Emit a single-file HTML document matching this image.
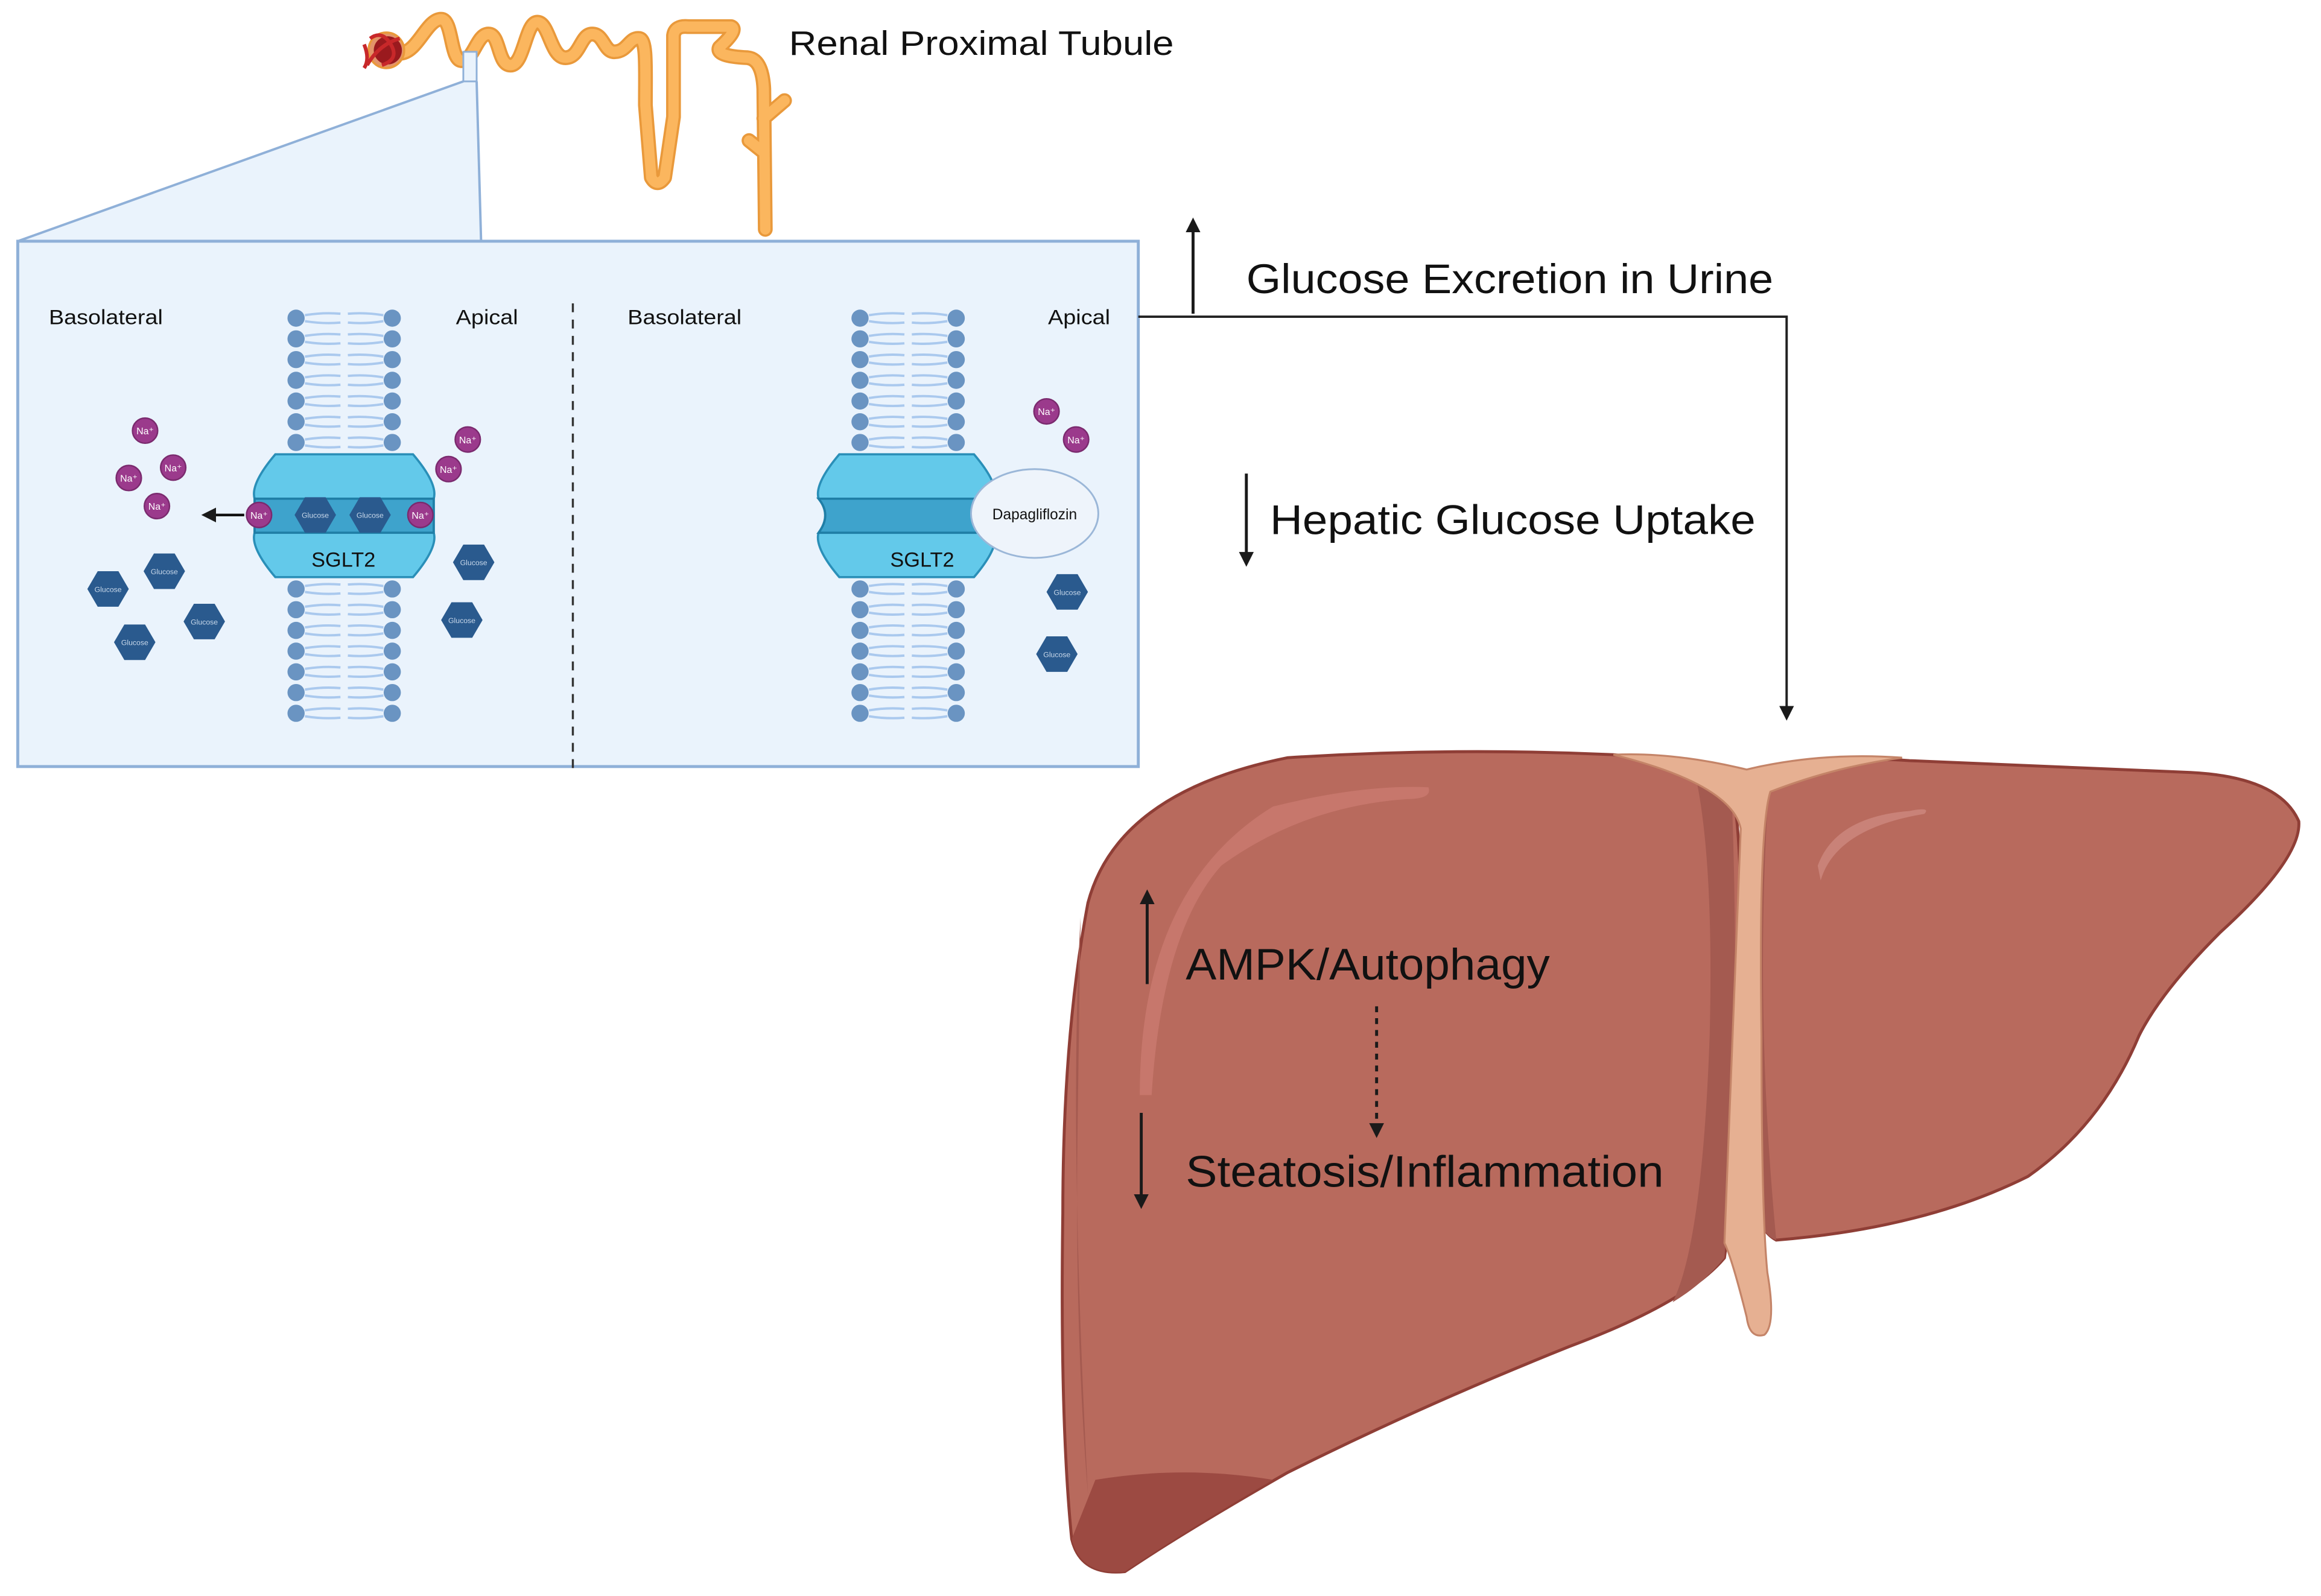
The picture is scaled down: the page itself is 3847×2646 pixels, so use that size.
<!DOCTYPE html>
<html><head><meta charset="utf-8"><style>html,body{margin:0;padding:0;background:#fff}svg{display:block}</style></head>
<body>
<svg width="3847" height="2646" viewBox="0 0 1568 1078.5" xmlns="http://www.w3.org/2000/svg" font-family="Liberation Sans, sans-serif">
<defs>
<marker id="ah" markerWidth="10" markerHeight="10" refX="5" refY="5" orient="auto" markerUnits="userSpaceOnUse"><path d="M0,0 L10,5 L0,10 z" fill="#1a1a1a"/></marker>
<g id="lip">
 <circle cx="0" cy="0" r="5.8" fill="#6a94c2"/>
 <circle cx="65" cy="0" r="5.8" fill="#6a94c2"/>
 <path d="M6,-2 Q18,-4 30,-3 M6,2 Q18,4 30,3 M35,-3 Q47,-4 59,-2 M35,3 Q47,4 59,2" stroke="#aac9ee" stroke-width="1.6" fill="none"/>
</g>
<g id="mem">
 <use href="#lip" y="215"/><use href="#lip" y="229"/><use href="#lip" y="243"/><use href="#lip" y="257"/><use href="#lip" y="271"/><use href="#lip" y="285"/><use href="#lip" y="299"/>
 <use href="#lip" y="398"/><use href="#lip" y="412"/><use href="#lip" y="426"/><use href="#lip" y="440"/><use href="#lip" y="454"/><use href="#lip" y="468"/><use href="#lip" y="482"/>
</g>
<g id="na"><circle r="8.5" fill="#9b3a8c" stroke="#7a2a6e" stroke-width="1"/><text y="2.5" font-size="6.5" fill="#fff" text-anchor="middle">Na⁺</text></g>
<g id="glu"><polygon points="-14,0 -7,-12 7,-12 14,0 7,12 -7,12" fill="#2a5a8e"/><text y="2" font-size="5" fill="#c8d8ea" text-anchor="middle">Glucose</text></g>
</defs>

<polygon points="313,55 322,55 325,163 12,163" fill="#eaf3fc"/>
<line x1="313" y1="55" x2="12" y2="163" stroke="#8fb0d8" stroke-width="1.6"/>
<line x1="322" y1="55" x2="325" y2="163" stroke="#8fb0d8" stroke-width="1.6"/>
<rect x="12" y="163" width="757" height="355" fill="#eaf3fc" stroke="#8fb0d8" stroke-width="2"/>

<g fill="none" stroke-linecap="round" stroke-linejoin="round">
<path d="M270,36 C282,36 288,13 298,13 C306,13 304,41 312,41 C320,41 322,23 330,23 C338,23 336,44 345,44 C354,44 355,15 363,15 C371,15 372,39 382,39 C392,39 392,23 400,23 C408,23 408,35 415,35 C424,35 425,25 432,26 C437,27 436,45 436,71 L440,120 Q444,127 449,120 L455,79 L455,24 Q456,17 465,18 L494,18 Q499,20 486,32 Q483,38 505,39 Q515,40 516,60 L517,155 M516,80 L530,68 M516,103 L506,95" stroke="#e9993b" stroke-width="10"/>
<path d="M270,36 C282,36 288,13 298,13 C306,13 304,41 312,41 C320,41 322,23 330,23 C338,23 336,44 345,44 C354,44 355,15 363,15 C371,15 372,39 382,39 C392,39 392,23 400,23 C408,23 408,35 415,35 C424,35 425,25 432,26 C437,27 436,45 436,71 L440,120 Q444,127 449,120 L455,79 L455,24 Q456,17 465,18 L494,18 Q499,20 486,32 Q483,38 505,39 Q515,40 516,60 L517,155 M516,80 L530,68 M516,103 L506,95" stroke="#fbb65e" stroke-width="7"/>
</g>
<circle cx="261" cy="34" r="12" fill="#e3946a" stroke="#e9993b" stroke-width="1.5"/>
<circle cx="262" cy="34" r="9.5" fill="#9a1a1e"/>
<path d="M250,26 Q258,20 264,30 Q270,40 258,44 M248,44 Q256,30 270,26 M246,30 Q250,40 246,46" stroke="#c8282a" stroke-width="2.5" fill="none"/>
<rect x="313" y="35" width="9" height="20" fill="#eaf3fc" stroke="#8fb0d8" stroke-width="1.2"/>
<text x="533" y="37" font-size="23" fill="#111" textLength="260" lengthAdjust="spacingAndGlyphs">Renal Proximal Tubule</text>

<g font-size="14" fill="#111">
<text x="33" y="219" textLength="77" lengthAdjust="spacingAndGlyphs">Basolateral</text><text x="308" y="219" textLength="42" lengthAdjust="spacingAndGlyphs">Apical</text>
<text x="424" y="219" textLength="77" lengthAdjust="spacingAndGlyphs">Basolateral</text><text x="708" y="219" textLength="42" lengthAdjust="spacingAndGlyphs">Apical</text>
</g>
<line x1="387" y1="205" x2="387" y2="522" stroke="#333" stroke-width="1.4" stroke-dasharray="6,5"/>

<use href="#mem" x="200"/>
<use href="#mem" x="581"/>

<path d="M186,307 L279,307 Q296,327 293,337 L293,360 Q296,370 279,390 L186,390 Q169,370 172,360 L172,337 Q169,327 186,307 Z" fill="#63c9ea" stroke="#2a8fb8" stroke-width="1.5"/>
<rect x="172" y="337" width="121" height="23" fill="#3ea3cc" stroke="#1f7ea6" stroke-width="1.5"/>
<text x="232" y="383" font-size="14" fill="#111" text-anchor="middle">SGLT2</text>
<use href="#glu" x="213" y="348"/><use href="#glu" x="250" y="348"/>
<use href="#na" x="175" y="348"/><use href="#na" x="284" y="348"/>
<line x1="165" y1="348" x2="141" y2="348" stroke="#111" stroke-width="1.8" marker-end="url(#ah)"/>
<use href="#na" x="98" y="291"/><use href="#na" x="117" y="316"/><use href="#na" x="87" y="323"/><use href="#na" x="106" y="342"/>
<use href="#na" x="316" y="297"/><use href="#na" x="303" y="317"/>
<use href="#glu" x="111" y="386"/><use href="#glu" x="73" y="398"/><use href="#glu" x="138" y="420"/><use href="#glu" x="91" y="434"/>
<use href="#glu" x="320" y="380"/><use href="#glu" x="312" y="419"/>

<path d="M567,307 L658,307 Q675,327 672,337 L672,360 Q675,370 658,390 L567,390 Q550,370 553,360 Q562,348 553,337 Q550,327 567,307 Z" fill="#63c9ea" stroke="#2a8fb8" stroke-width="1.5"/>
<path d="M553,337 L672,337 L672,360 L553,360 Q562,348 553,337 Z" fill="#3ea3cc" stroke="#1f7ea6" stroke-width="1.5"/>
<text x="623" y="383" font-size="14" fill="#111" text-anchor="middle">SGLT2</text>
<ellipse cx="699" cy="347" rx="43" ry="30" fill="#eef4fb" stroke="#9bb7d8" stroke-width="1.2"/>
<text x="699" y="351" font-size="10" fill="#111" text-anchor="middle">Dapagliflozin</text>
<use href="#na" x="707" y="278"/><use href="#na" x="727" y="297"/>
<use href="#glu" x="721" y="400"/><use href="#glu" x="714" y="442"/>

<line x1="806" y1="212" x2="806" y2="152" stroke="#1a1a1a" stroke-width="2" marker-end="url(#ah)"/>
<text x="842" y="198" font-size="28" fill="#111" textLength="356" lengthAdjust="spacingAndGlyphs">Glucose Excretion in Urine</text>
<path d="M769,214 L1207,214 L1207,482" fill="none" stroke="#222" stroke-width="1.6" marker-end="url(#ah)"/>
<line x1="842" y1="320" x2="842" y2="378" stroke="#1a1a1a" stroke-width="2" marker-end="url(#ah)"/>
<text x="858" y="361" font-size="28" fill="#111" textLength="328" lengthAdjust="spacingAndGlyphs">Hepatic Glucose Uptake</text>

<path d="M1190,520 Q1240,510 1290,514 L1480,522 Q1540,525 1553,555 Q1555,580 1500,630 Q1460,670 1445,700 Q1420,760 1370,795 Q1300,830 1200,838 Q1185,830 1185,800 L1185,540 Z" fill="#b86a5d" stroke="#8f3e36" stroke-width="2"/>
<path d="M1195,530 Q1185,680 1200,838 Q1190,835 1186,815 L1185,540 Z" fill="#a45a50"/>
<path d="M1230,595 Q1240,560 1300,550 Q1305,545 1290,548 Q1240,552 1228,585 Z" fill="#c98278"/>
<path d="M870,512 Q980,505 1090,510 Q1150,515 1170,535 Q1178,560 1176,700 Q1172,800 1165,850 Q1140,880 1060,910 Q960,950 870,995 Q800,1035 760,1062 Q730,1065 724,1040 Q716,960 718,820 Q718,700 735,610 Q755,535 870,512 Z" fill="#b86a5d" stroke="#8f3e36" stroke-width="2"/>
<path d="M1145,522 Q1165,528 1170,540 Q1176,700 1165,850 Q1150,868 1130,880 Q1150,840 1155,700 Q1158,580 1145,522 Z" fill="#a45a50"/>
<path d="M740,1000 Q800,990 860,1000 Q800,1035 760,1062 Q730,1065 724,1040 Z" fill="#9c4a42"/>
<path d="M730,620 Q722,760 735,1010 Q726,900 728,760 Z" fill="#a45a50"/>
<path d="M770,740 Q770,600 860,545 Q920,530 965,532 Q968,540 950,540 Q880,545 825,585 Q785,630 778,740 Z" fill="#c7776c"/>
<path d="M1090,510 Q1130,508 1180,520 Q1230,508 1285,512 Q1240,518 1196,535 Q1188,560 1190,700 Q1190,820 1194,860 Q1200,895 1192,902 Q1182,905 1180,890 Q1170,850 1165,840 Q1170,700 1176,560 Q1170,530 1090,510 Z" fill="#e6b092" stroke="#c48468" stroke-width="1.3"/>

<line x1="775" y1="665" x2="775" y2="606" stroke="#1a1a1a" stroke-width="2" marker-end="url(#ah)"/>
<text x="801" y="662" font-size="30" fill="#111" textLength="246" lengthAdjust="spacingAndGlyphs">AMPK/Autophagy</text>
<line x1="930" y1="680" x2="930" y2="764" stroke="#1a1a1a" stroke-width="2" stroke-dasharray="4,4" marker-end="url(#ah)"/>
<line x1="771" y1="752" x2="771" y2="812" stroke="#1a1a1a" stroke-width="2" marker-end="url(#ah)"/>
<text x="801" y="802" font-size="30" fill="#111" textLength="323" lengthAdjust="spacingAndGlyphs">Steatosis/Inflammation</text>
</svg>
</body></html>
